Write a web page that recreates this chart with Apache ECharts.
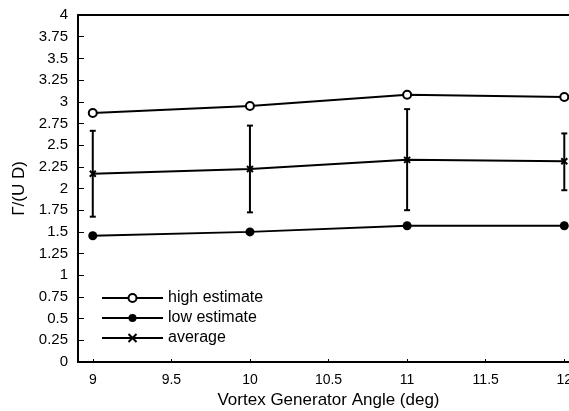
<!DOCTYPE html>
<html>
<head>
<meta charset="utf-8">
<script src="https://cdn.jsdelivr.net/npm/echarts@6/dist/echarts.min.js"></script>
<style>
  html, body { margin: 0; padding: 0; background: #fff; }
  #chart { width: 569px; height: 411px; }
</style>
</head>
<body>
<div id="chart"></div>
<script>
// Vortex generator angle (deg)
const angles = [9, 10, 11, 12];
// Normalised circulation estimates
const highEstimate = [2.87, 2.95, 3.08, 3.055];
const lowEstimate = [1.455, 1.50, 1.57, 1.57];
const average = [2.17, 2.225, 2.33, 2.315];
// Error bar bounds around the average
const errLow = [1.675, 1.725, 1.75, 1.98];
const errHigh = [2.665, 2.725, 2.915, 2.635];
// Axis tick labels
const xTicks = [9, 9.5, 10, 10.5, 11, 11.5, 12];

const font = 'Liberation Sans, Arial, Helvetica, sans-serif';
const xMark = 'path://M0,0L10,10M10,0L0,10';

const chart = echarts.init(document.getElementById('chart'), null, { renderer: 'canvas' });

const pairs = (ys) => angles.map((x, i) => [x, ys[i]]);

// The plotted range runs a little past 12; the frame is open on the right.
const xMin = 8.906, xMax = 12.03;

chart.setOption({
  animation: false,
  backgroundColor: '#ffffff',
  grid: { left: 78, top: 15, right: 0, bottom: 49, outerBoundsMode: 'none', containLabel: false },
  legend: {
    orient: 'vertical',
    left: 96, top: 283,
    itemWidth: 61, itemHeight: 10, itemGap: 0,
    textStyle: { fontFamily: font, fontSize: 16, color: '#000', lineHeight: 20 },
    data: ['high estimate', 'low estimate', 'average']
  },
  xAxis: [
    {
      type: 'value',
      min: xMin, max: xMax,
      name: 'Vortex Generator Angle (deg)',
      nameLocation: 'middle', nameGap: 30,
      nameTextStyle: { fontFamily: font, fontSize: 17, color: '#000', padding: [0, 0, 0, 10] },
      axisLine: { show: true, onZero: false, lineStyle: { color: '#000', width: 2 } },
      axisTick: { show: true, inside: true, length: 3, customValues: xTicks, lineStyle: { color: '#000' } },
      axisLabel: {
        customValues: xTicks, margin: 11, hideOverlap: false,
        fontFamily: font, fontSize: 14, color: '#000'
      },
      splitLine: { show: false }
    },
    {
      // top frame line
      type: 'value', position: 'top',
      min: xMin, max: xMax,
      axisLine: { show: true, onZero: false, lineStyle: { color: '#000', width: 2 } },
      axisTick: { show: false },
      axisLabel: { show: false },
      splitLine: { show: false }
    }
  ],
  yAxis: {
    type: 'value',
    min: 0, max: 4, interval: 0.25,
    name: 'Γ/(U D)',
    nameLocation: 'middle', nameGap: 50,
    nameTextStyle: { fontFamily: font, fontSize: 17, color: '#000' },
    axisLine: { show: true, lineStyle: { color: '#000', width: 2 } },
    axisTick: { show: true, inside: true, length: 6, lineStyle: { color: '#000' } },
    axisLabel: { margin: 10, fontFamily: font, fontSize: 15, color: '#000' },
    splitLine: { show: false }
  },
  series: [
    {
      name: 'high estimate', type: 'line', data: pairs(highEstimate),
      symbol: 'emptyCircle', symbolSize: 8, clip: false,
      lineStyle: { color: '#000', width: 2 },
      itemStyle: { color: '#000', borderWidth: 1.5 }
    },
    {
      name: 'low estimate', type: 'line', data: pairs(lowEstimate),
      symbol: 'circle', symbolSize: 9, clip: false,
      lineStyle: { color: '#000', width: 2 },
      itemStyle: { color: '#000' }
    },
    {
      name: 'average', type: 'line', data: pairs(average),
      symbol: xMark, symbolSize: 6, clip: false,
      lineStyle: { color: '#000', width: 2 },
      itemStyle: { color: '#000', borderColor: '#000', borderWidth: 2 }
    },
    {
      name: 'error', type: 'custom',
      data: angles.map((x, i) => [x, errLow[i], errHigh[i]]),
      renderItem: function (params, api) {
        const lo = api.coord([api.value(0), api.value(1)]);
        const hi = api.coord([api.value(0), api.value(2)]);
        const cap = 3;
        const style = { stroke: '#000', lineWidth: 2 };
        return {
          type: 'group',
          children: [
            { type: 'line', shape: { x1: lo[0], y1: lo[1], x2: hi[0], y2: hi[1] }, style: style },
            { type: 'line', shape: { x1: hi[0] - cap, y1: hi[1], x2: hi[0] + cap, y2: hi[1] }, style: style },
            { type: 'line', shape: { x1: lo[0] - cap, y1: lo[1], x2: lo[0] + cap, y2: lo[1] }, style: style }
          ]
        };
      },
      z: 3
    }
  ]
});
</script>
</body>
</html>
